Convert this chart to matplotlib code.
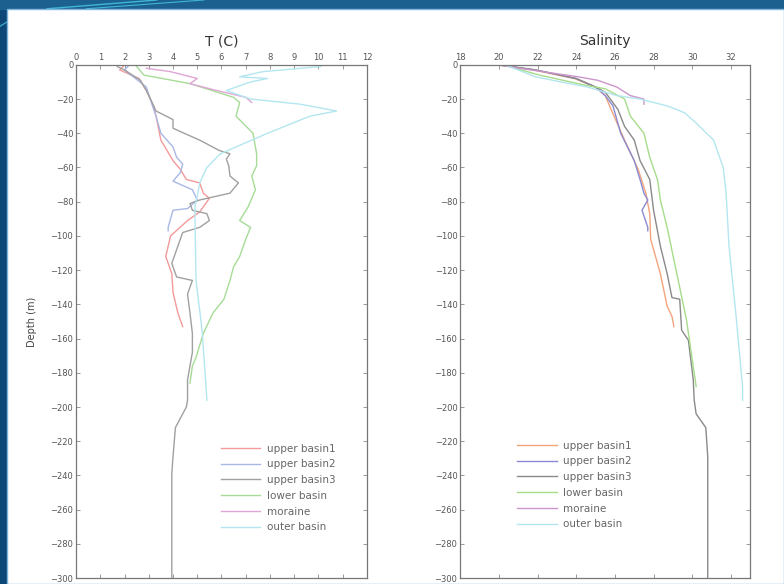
import matplotlib
matplotlib.use('Agg')
import matplotlib.pyplot as plt
from matplotlib.patches import Rectangle
from matplotlib.lines import Line2D

# Temperature profiles (depth in m, T in C)
ub1_t_depth = [0, -3, -8, -15, -24, -30, -44, -56, -61, -67, -69, -75, -78, -86, -91, -100, -112, -122, -133, -145, -153]
ub1_t = [2.0, 1.8, 2.6, 2.9, 3.2, 3.3, 3.5, 4.0, 4.3, 4.55, 5.1, 5.25, 5.5, 5.1, 4.6, 3.9, 3.7, 3.95, 4.0, 4.2, 4.4]

ub2_t_depth = [0, -3, -13, -26, -30, -40, -48, -54, -58, -63, -68, -73, -79, -84, -85, -95, -97]
ub2_t = [2.2, 2.0, 2.9, 3.2, 3.3, 3.5, 4.0, 4.15, 4.4, 4.3, 4.0, 4.8, 5.0, 4.6, 4.0, 3.8, 3.8]

ub3_t_depth = [-1, -3, -9, -15, -24, -27, -32, -37, -39, -44, -50, -52, -55, -59, -65, -69, -75, -79, -81, -85, -87, -91,
               -95, -98, -106, -116, -124, -126, -134, -145, -157, -168, -184, -196, -200, -204, -212, -229, -239, -300]
ub3_t = [1.7, 2.0, 2.65, 2.9, 3.2, 3.3, 4.0, 4.0, 4.3, 5.1, 5.9, 6.35, 6.2, 6.3, 6.35, 6.7, 6.35, 5.1, 4.7, 4.8, 5.4, 5.5,
         5.1, 4.4, 4.2, 3.95, 4.15, 4.8, 4.6, 4.7, 4.8, 4.8, 4.6, 4.6, 4.55, 4.4, 4.1, 4.0, 3.95, 3.95]

lb_t_depth = [-1, -6, -11, -19, -22, -30, -40, -52, -59, -65, -73, -83, -91, -95, -102, -112, -118, -126, -137, -145, -157, -171, -176, -186]
lb_t = [2.5, 2.8, 4.7, 6.5, 6.75, 6.6, 7.3, 7.45, 7.45, 7.25, 7.4, 7.1, 6.75, 7.2, 7.0, 6.75, 6.5, 6.35, 6.1, 5.65, 5.25, 4.95, 4.8, 4.7]

mor_t_depth = [-2, -4, -8, -11, -15, -19, -22]
mor_t = [2.9, 3.9, 5.0, 4.7, 5.8, 7.0, 7.25]

ob_t_depth = [-1, -4, -7, -8, -10, -15, -20, -23, -27, -30, -40, -52, -60, -69, -77, -83, -126, -155, -196]
ob_t = [10.1, 7.7, 6.75, 7.9, 7.2, 6.2, 7.2, 9.25, 10.75, 9.65, 7.9, 5.95, 5.4, 5.1, 5.0, 4.9, 4.95, 5.2, 5.4]

# Salinity profiles
ub1_s_depth = [0, -3, -8, -13, -18, -26, -44, -61, -75, -87, -102, -122, -141, -147, -153]
ub1_s = [19.9, 21.8, 23.9, 25.0, 25.5, 25.8, 26.5, 27.2, 27.6, 27.8, 27.85, 28.35, 28.7, 28.95, 29.05]

ub2_s_depth = [0, -3, -8, -13, -18, -24, -40, -56, -67, -75, -79, -85, -95, -97]
ub2_s = [20.0, 21.9, 24.0, 25.0, 25.5, 25.9, 26.3, 27.0, 27.3, 27.5, 27.7, 27.4, 27.7, 27.7]

ub3_s_depth = [0, -3, -8, -13, -16, -26, -36, -44, -56, -67, -85, -106, -122, -136, -137, -155, -161, -184, -196, -204, -212, -229, -300]
ub3_s = [20.0, 21.9, 24.0, 25.0, 25.5, 26.15, 26.5, 27.0, 27.3, 27.8, 28.0, 28.35, 28.7, 28.95, 29.35, 29.45, 29.8, 30.05, 30.1, 30.2, 30.7, 30.8, 30.8]

lb_s_depth = [0, -6, -12, -14, -20, -30, -40, -54, -67, -79, -95, -122, -149, -188]
lb_s = [20.2, 22.1, 24.5, 25.5, 26.5, 26.8, 27.5, 27.8, 28.2, 28.35, 28.7, 29.2, 29.7, 30.2]

mor_s_depth = [0, -2, -7, -9, -13, -18, -20, -23]
mor_s = [20.0, 21.05, 24.1, 25.1, 26.1, 26.8, 27.5, 27.5]

ob_s_depth = [0, -7, -10, -13, -18, -20, -24, -28, -34, -44, -60, -75, -106, -145, -188, -196]
ob_s = [20.3, 21.9, 23.2, 24.6, 26.1, 27.3, 28.7, 29.6, 30.2, 31.1, 31.6, 31.75, 31.9, 32.25, 32.6, 32.6]

labels = ['upper basin1', 'upper basin2', 'upper basin3', 'lower basin', 'moraine', 'outer basin']
t_colors = ['#f39a9a', '#a9b8e6', '#a0a0a0', '#a6dc96', '#e0a6d6', '#b4e6f0']
s_colors = ['#f4a47c', '#8a8ad2', '#8a8a8a', '#a6dc8a', '#cc96cc', '#b4e6f0']

t_data = [(ub1_t, ub1_t_depth), (ub2_t, ub2_t_depth), (ub3_t, ub3_t_depth),
          (lb_t, lb_t_depth), (mor_t, mor_t_depth), (ob_t, ob_t_depth)]
s_data = [(ub1_s, ub1_s_depth), (ub2_s, ub2_s_depth), (ub3_s, ub3_s_depth),
          (lb_s, lb_s_depth), (mor_s, mor_s_depth), (ob_s, ob_s_depth)]

fig = plt.figure(figsize=(7.84, 5.84), dpi=100)
fig.patch.set_facecolor('#0c4777')
# slide background: top band, a few streaks and the white panel, behind the axes
fig.add_artist(Rectangle((0, 0.985), 1, 0.015, transform=fig.transFigure, color='#1c6090', zorder=-10))
fig.add_artist(Line2D([0.06, 0.20], [0.985, 1.0], transform=fig.transFigure, color='#3fb6d6', lw=1, zorder=-9))
fig.add_artist(Line2D([0.11, 0.26], [0.985, 1.0], transform=fig.transFigure, color='#3fb6d6', lw=0.8, zorder=-9))
fig.add_artist(Line2D([0.0, 0.012], [0.955, 0.965], transform=fig.transFigure, color='#3fb6d6', lw=0.8, zorder=-9))
fig.add_artist(Rectangle((0.009, 0), 0.991, 0.985, transform=fig.transFigure,
                         facecolor='white', edgecolor='#7fb4dc', lw=1, zorder=-8))

grey = '#555555'

def style_axis(ax, xlim, xticks, title):
    ax.set_xlim(*xlim)
    ax.set_ylim(-300, 0)
    ax.set_xticks(xticks)
    ax.set_yticks(range(-300, 1, 20))
    ax.xaxis.tick_top()
    ax.tick_params(axis='both', which='both', direction='in', top=True, bottom=True,
                   left=True, right=True, labelsize=6, colors='#888888', labelcolor=grey,
                   length=3, width=0.6, pad=2)
    for s in ax.spines.values():
        s.set_color('#777777')
        s.set_linewidth(0.9)
    ax.set_title(title, fontsize=10, color='#333333', pad=14)
    ax.set_yticklabels([str(v).replace('-', '\u2212') for v in range(-300, 1, 20)])

ax1 = fig.add_axes([0.097, 0.010, 0.371, 0.879])
ax2 = fig.add_axes([0.587, 0.010, 0.370, 0.879])

for (x, d), c, lab in zip(t_data, t_colors, labels):
    ax1.plot(x, d, color=c, lw=1.0, label=lab)
for (x, d), c, lab in zip(s_data, s_colors, labels):
    ax2.plot(x, d, color=c, lw=1.0, label=lab)

style_axis(ax1, (0, 12), range(0, 13), 'T (C)')
style_axis(ax2, (18, 33), range(18, 33, 2), 'Salinity')
ax1.set_ylabel('Depth (m)', fontsize=7, color='#444444', labelpad=10)

leg_kw = dict(loc='upper left', frameon=False, fontsize=7.5, handlelength=3.8,
              handletextpad=0.6, labelspacing=0.55, borderpad=0, borderaxespad=0,
              labelcolor='#666666')
ax1.legend(bbox_to_anchor=(0.498, 0.262), **leg_kw)
ax2.legend(bbox_to_anchor=(0.197, 0.268), **leg_kw)

fig.savefig('out.png', dpi=100, facecolor=fig.get_facecolor())
